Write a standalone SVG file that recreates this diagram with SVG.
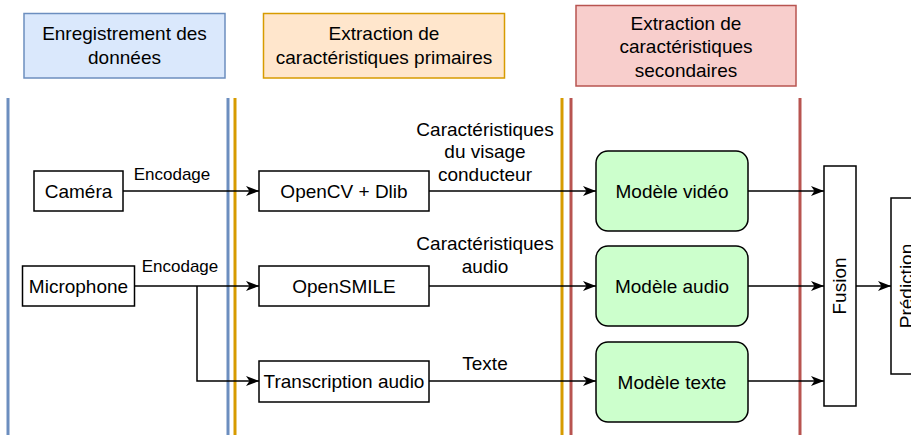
<svg xmlns="http://www.w3.org/2000/svg" width="911" height="435" viewBox="0 0 911 435">
<defs>
<marker id="arr" markerUnits="userSpaceOnUse" markerWidth="14" markerHeight="11" refX="13" refY="5" orient="auto">
<path d="M0,0 L13,5 L0,10 L3.5,5 Z" fill="#000"/>
</marker>
</defs>
<style>
text{font-family:"Liberation Sans",Arial,sans-serif;font-size:19px;fill:#000;text-anchor:middle}
.lbl{font-size:17px}
.box{fill:#fff;stroke:#000;stroke-width:1.5}
.model{fill:#ccffcc;stroke:#000;stroke-width:1.5}
.edge{fill:none;stroke:#000;stroke-width:1.5;marker-end:url(#arr)}
.line{fill:none;stroke:#000;stroke-width:1.5}
.vb{stroke:#6c8ebf;stroke-width:3}
.vo{stroke:#d79b00;stroke-width:3}
.vr{stroke:#b85450;stroke-width:3}
</style>
<rect width="911" height="435" fill="#fff"/>
<g id="separators">
<line class="vb" x1="8" y1="98" x2="8" y2="435"/>
<line class="vb" x1="228" y1="98" x2="228" y2="435"/>
<line class="vo" x1="235" y1="98" x2="235" y2="435"/>
<line class="vo" x1="562" y1="98" x2="562" y2="435"/>
<line class="vr" x1="571" y1="98" x2="571" y2="435"/>
<line class="vr" x1="800" y1="98" x2="800" y2="435"/>
</g>
<g id="h1">
<rect x="24" y="13.5" width="201" height="64.5" fill="#dae8fc" stroke="#6c8ebf" stroke-width="1.5"/>
<text x="124.5" y="40">Enregistrement des</text>
<text x="124.5" y="63.5">données</text>
</g>
<g id="h2">
<rect x="263.5" y="13.5" width="241" height="64.5" fill="#ffe6cc" stroke="#d79b00" stroke-width="1.5"/>
<text x="384" y="40">Extraction de</text>
<text x="384" y="63.5">caractéristiques primaires</text>
</g>
<g id="h3">
<rect x="576" y="5.5" width="220" height="80.5" fill="#f8cecc" stroke="#b85450" stroke-width="1.5"/>
<text x="686" y="29.5">Extraction de</text>
<text x="686" y="53">caractéristiques</text>
<text x="686" y="76.5">secondaires</text>
</g>
<g id="connectors">
<path class="edge" d="M123,191 H259"/>
<text class="lbl" x="172" y="179.5">Encodage</text>
<path class="edge" d="M135,286 H259"/>
<text class="lbl" x="180" y="272">Encodage</text>
<path class="edge" d="M197,286 V381 H259"/>
<path class="edge" d="M429,191 H596"/>
<text x="485" y="136">Caractéristiques</text>
<text x="485" y="158">du visage</text>
<text x="485" y="180.5">conducteur</text>
<path class="edge" d="M429,286 H596"/>
<text x="485" y="250">Caractéristiques</text>
<text x="485" y="273">audio</text>
<path class="edge" d="M429,381 H596"/>
<text x="485" y="370">Texte</text>
<path class="edge" d="M748,191 H824"/>
<path class="edge" d="M748,286 H824"/>
<path class="edge" d="M748,381 H824"/>
<path class="edge" d="M856,286 H891"/>
</g>
<g id="camera">
<rect class="box" x="34" y="171" width="89" height="40"/>
<text x="78.5" y="198">Caméra</text>
</g>
<g id="microphone">
<rect class="box" x="22.5" y="266" width="112" height="40"/>
<text x="78.5" y="293">Microphone</text>
</g>
<g id="opencv">
<rect class="box" x="259" y="171" width="170" height="40"/>
<text x="344" y="198">OpenCV + Dlib</text>
</g>
<g id="opensmile">
<rect class="box" x="259" y="266" width="170" height="40"/>
<text x="344" y="293">OpenSMILE</text>
</g>
<g id="transcription">
<rect class="box" x="259" y="361" width="170" height="41"/>
<text x="344" y="388">Transcription audio</text>
</g>
<g id="modele-video">
<rect class="model" x="596" y="151" width="152" height="80" rx="12"/>
<text x="672" y="198">Modèle vidéo</text>
</g>
<g id="modele-audio">
<rect class="model" x="596" y="246" width="152" height="80" rx="12"/>
<text x="672" y="293">Modèle audio</text>
</g>
<g id="modele-texte">
<rect class="model" x="596" y="342" width="152" height="80" rx="12"/>
<text x="672" y="389">Modèle texte</text>
</g>
<g id="fusion">
<rect class="box" x="824" y="166" width="32" height="240"/>
<text transform="translate(840,286) rotate(-90)" y="5.5">Fusion</text>
</g>
<g id="prediction">
<rect class="box" x="891" y="198" width="32" height="176"/>
<text transform="translate(907,286) rotate(-90)" y="5.5">Prédiction</text>
</g>
</svg>
